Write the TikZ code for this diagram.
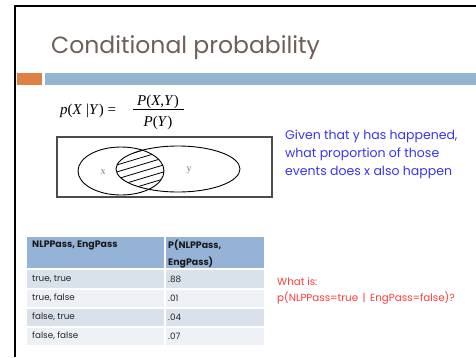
\documentclass[tikz,border=0pt]{standalone}
\usepackage{fontspec}
\setmainfont{Poppins}
\newfontfamily\tnr{Liberation Serif}
\definecolor{titlecol}{HTML}{6F5F58}
\definecolor{orangebar}{HTML}{E08045}
\definecolor{bluebar}{HTML}{94B5D2}
\definecolor{hdrcol}{HTML}{95B3D7}
\definecolor{rowdark}{HTML}{D9E1EA}
\definecolor{rowlight}{HTML}{EDF1F6}
\definecolor{bluetxt}{HTML}{3535F5}
\definecolor{redtxt}{HTML}{FF3B3B}
\definecolor{venntxt}{HTML}{8A766C}
\begin{document}
\begin{tikzpicture}[x=1pt,y=-1pt,
  cellhdr/.style={fill=hdrcol},
  celldark/.style={fill=rowdark},
  celllight/.style={fill=rowlight},
  tabtxt/.style={anchor=west,inner sep=0,text=black!85,font=\fontsize{8.8}{10}\selectfont},
  tabhdr/.style={anchor=west,inner sep=0,text=black!90,font=\bfseries\fontsize{9.4}{17.5}\selectfont,align=left},
  vennlbl/.style={inner sep=0,text=venntxt,font=\tnr\fontsize{10}{11}\selectfont}]
\useasboundingbox (0,0) rectangle (476,357);
\fill[white] (0,0) rectangle (476,357);
% slide border
\draw[line width=2pt] (15,357) -- (15,6) -- (476,6);
% title
\node[anchor=base west,inner sep=0,text=titlecol,font=\fontsize{23.5}{28}\selectfont] (title) at (51,53) {Conditional probability};
% bars
\fill[orangebar] (17,73) rectangle (42,85);
\fill[bluebar] (45,73) rectangle (476,85);
% formula
\node[anchor=base west,inner sep=0,font=\tnr\fontsize{15}{17}\selectfont] (lhs) at (60,114) {\textit{p}(\textit{X} |\textit{Y}) =};
\node[anchor=base,inner sep=0,font=\tnr\fontsize{15}{17}\selectfont] (num) at (158,105) {\textit{P}(\textit{X},\textit{Y})};
\node[anchor=base,inner sep=0,font=\tnr\fontsize{15}{17}\selectfont] (den) at (158,126) {\textit{P}(\textit{Y})};
\draw[line width=0.7pt] (133,109) -- (184,109);
% venn
\draw[line width=1.1pt,black!70] (57,137) rectangle (272,197);
\begin{scope}
  \clip (121,171) ellipse [x radius=43, y radius=24];
  \clip (178,169) ellipse [x radius=62, y radius=23];
  \foreach \k in {0,...,5} {
    \draw[line width=0.8pt] (100,{151+7*\k+12}) -- (180,{151+7*\k-12});
  }
\end{scope}
\draw[line width=0.9pt] (121,171) ellipse [x radius=43, y radius=24];
\draw[line width=0.9pt] (178,169) ellipse [x radius=62, y radius=23];
\node[vennlbl] (xl) at (103,172) {x};
\node[vennlbl] (yl) at (189,170) {y};
% blue text
\node[anchor=north west,inner sep=0,align=left,text=bluetxt,font=\fontsize{12.5}{18}\selectfont] (given) at (285,130) {Given that y has happened,\\what proportion of those\\events does x also happen};
% table
\fill[cellhdr] (27,237) rectangle (164,268);
\fill[cellhdr] (166,237) rectangle (264,268);
\fill[celldark] (27,270) rectangle (164,288);
\fill[celldark] (166,270) rectangle (264,288);
\fill[celllight] (27,290) rectangle (164,307);
\fill[celllight] (166,290) rectangle (264,307);
\fill[celldark] (27,309) rectangle (164,326);
\fill[celldark] (166,309) rectangle (264,326);
\fill[celllight] (27,328) rectangle (164,345);
\fill[celllight] (166,328) rectangle (264,345);
\node[tabhdr] (h1) at (32,245) {NLPPass, EngPass};
\node[tabhdr] (h2) at (168,254) {P(NLPPass,\\EngPass)};
\node[tabtxt] (a1) at (32,279) {true, true};
\node[tabtxt] (b1) at (168,279) {.88};
\node[tabtxt] (a2) at (32,298) {true, false};
\node[tabtxt] (b2) at (168,298) {.01};
\node[tabtxt] (a3) at (32,317) {false, true};
\node[tabtxt] (b3) at (168,317) {.04};
\node[tabtxt] (a4) at (32,336) {false, false};
\node[tabtxt] (b4) at (168,336) {.07};
% red text
\node[anchor=north west,inner sep=0,align=left,text=redtxt,font=\fontsize{10.3}{16}\selectfont] (whatis) at (277,277) {What is:\\p(NLPPass=true \,|\, EngPass=false)?};
\end{tikzpicture}
\end{document}
